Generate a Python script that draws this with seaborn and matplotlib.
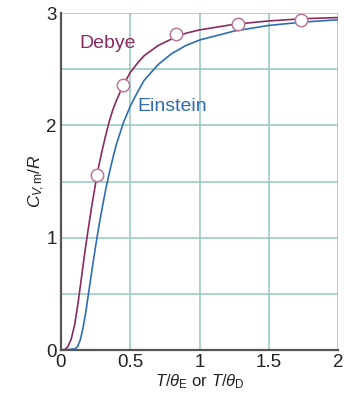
import matplotlib
matplotlib.use("Agg")
import matplotlib.pyplot as plt
import seaborn as sns
import pandas as pd

# Debye curve
debye_x = [0.0, 0.03, 0.05, 0.075, 0.1, 0.125, 0.15, 0.175, 0.2, 0.225, 0.25, 0.275, 0.3,
           0.325, 0.35, 0.375, 0.4, 0.45, 0.5, 0.55, 0.6, 0.7, 0.8, 0.9, 1.0, 1.25, 1.5, 1.75, 2.0]
debye_y = [0.0, 0.006, 0.03, 0.1, 0.23, 0.43, 0.66, 0.89, 1.1, 1.3, 1.48, 1.65, 1.79,
           1.92, 2.04, 2.14, 2.22, 2.36, 2.47, 2.55, 2.62, 2.71, 2.77, 2.82, 2.85, 2.90, 2.93, 2.95, 2.96]

# Einstein curve
einstein_x = [0.0, 0.1, 0.12, 0.14, 0.16, 0.18, 0.2, 0.225, 0.25, 0.275, 0.3, 0.325, 0.35,
              0.375, 0.4, 0.45, 0.5, 0.55, 0.6, 0.7, 0.8, 0.9, 1.0, 1.25, 1.5, 1.75, 2.0]
einstein_y = [0.0, 0.01, 0.03, 0.09, 0.2, 0.34, 0.51, 0.72, 0.92, 1.11, 1.28, 1.44, 1.58,
              1.71, 1.83, 2.02, 2.17, 2.29, 2.40, 2.54, 2.64, 2.71, 2.76, 2.84, 2.89, 2.92, 2.94]

# Marked points on the Debye curve
marker_x = [0.26, 0.45, 0.83, 1.28, 1.73]
marker_y = [1.56, 2.36, 2.81, 2.90, 2.94]

debye_df = pd.DataFrame({"x": debye_x, "y": debye_y})
einstein_df = pd.DataFrame({"x": einstein_x, "y": einstein_y})
marker_df = pd.DataFrame({"x": marker_x, "y": marker_y})

sns.set_style("white")
plt.rcParams["font.family"] = ["Liberation Sans", "DejaVu Sans"]
plt.rcParams["mathtext.fontset"] = "custom"
plt.rcParams["mathtext.rm"] = "Liberation Sans"
plt.rcParams["mathtext.it"] = "Liberation Sans:italic"

debye_c = "#8a2a5e"
einstein_c = "#2f6db3"
grid_c = "#93c7bd"

fig = plt.figure(figsize=(3.44, 3.96), dpi=100)
ax = fig.add_axes([0.177, 0.116, 0.806, 0.851])

sns.lineplot(data=einstein_df, x="x", y="y", ax=ax, color=einstein_c, lw=1.2, zorder=3)
sns.lineplot(data=debye_df, x="x", y="y", ax=ax, color=debye_c, lw=1.2, zorder=4)
sns.scatterplot(data=marker_df, x="x", y="y", ax=ax, s=80, color="white",
                edgecolor="#b87a98", linewidth=1.1, zorder=5, clip_on=False)

ax.set_xlim(0, 2)
ax.set_ylim(0, 3)
ax.set_xticks([0, 0.5, 1, 1.5, 2])
ax.set_xticklabels(["0", "0.5", "1", "1.5", "2"])
ax.set_yticks([0, 0.5, 1, 1.5, 2, 2.5, 3])
ax.set_yticklabels(["0", "", "1", "", "2", "", "3"])
ax.tick_params(length=0, labelsize=13.5, colors="#222222", pad=3)
ax.grid(True, color=grid_c, lw=1.1)
ax.set_axisbelow(True)

for s in ["top", "right"]:
    ax.spines[s].set_visible(False)
for s in ["left", "bottom"]:
    ax.spines[s].set_color("#555555")
    ax.spines[s].set_linewidth(1.6)
    ax.spines[s].set_zorder(6)

ax.set_xlabel(r"$T/\theta_{\mathrm{E}}$ or $T/\theta_{\mathrm{D}}$", fontsize=12,
              color="#222222", labelpad=1)
ax.set_ylabel(r"$C_{V\!,\mathrm{m}}/R$", fontsize=12.5, color="#222222")
ax.yaxis.set_label_coords(-0.05, 0.5)

ax.text(0.135, 2.73, "Debye", color=debye_c, fontsize=14, ha="left", va="center")
ax.text(0.555, 2.17, "Einstein", color=einstein_c, fontsize=14, ha="left", va="center")

fig.savefig("out.png", dpi=100)
